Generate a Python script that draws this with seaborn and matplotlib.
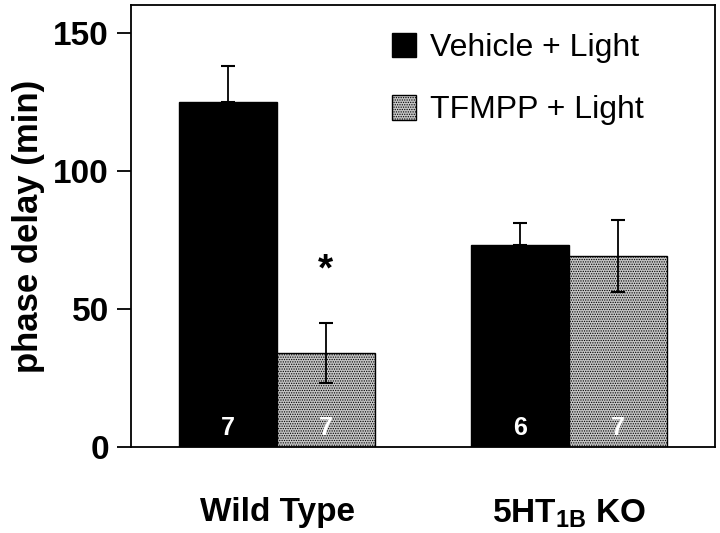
import matplotlib
matplotlib.use('Agg')
import matplotlib.pyplot as plt
import pandas as pd
import seaborn as sns

# Data
groups = ['Wild Type', '5HT$_{\\mathbf{1B}}$ KO']
treatments = ['Vehicle + Light', 'TFMPP + Light']
vehicle_mean = [125, 73]
tfmpp_mean = [34, 69]
vehicle_sem = [13, 8]
tfmpp_sem = [11, 13]
vehicle_n = [7, 6]
tfmpp_n = [7, 7]
sig_marks = ['*', '']  # per group, above TFMPP bar
sig_y = [64, None]

sns.set_style('white')
plt.rcParams['font.family'] = ['Liberation Sans', 'DejaVu Sans']
plt.rcParams['mathtext.fontset'] = 'custom'
plt.rcParams['mathtext.rm'] = 'Liberation Sans:bold'
plt.rcParams['mathtext.bf'] = 'Liberation Sans:bold'
plt.rcParams['hatch.color'] = '#6e6e6e'
plt.rcParams['hatch.linewidth'] = 0.6
for key in ['text.color', 'axes.labelcolor', 'xtick.color', 'ytick.color']:
    plt.rcParams[key] = 'black'

df = pd.DataFrame({
    'group': groups * 2,
    'treatment': [treatments[0]] * 2 + [treatments[1]] * 2,
    'mean': vehicle_mean + tfmpp_mean,
})

fig = plt.figure(figsize=(7.2, 5.33), dpi=100)
ax = fig.add_axes([131 / 720, 1 - 447 / 533, (715 - 131) / 720, (447 - 5) / 533])

sns.barplot(data=df, x='group', y='mean', hue='treatment', hue_order=treatments,
            palette=['black', '#c6c6c6'], width=0.67, errorbar=None,
            edgecolor='black', linewidth=1, legend=False, ax=ax)

bar_conts = list(ax.containers)

# hatch to imitate the dotted gray fill
for p in bar_conts[1].patches:
    p.set_hatch('.......')

sems = [vehicle_sem, tfmpp_sem]
ns = [vehicle_n, tfmpp_n]
for k, cont in enumerate(bar_conts):
    for i, p in enumerate(cont.patches):
        xc = p.get_x() + p.get_width() / 2
        h = p.get_height()
        lower = 0 if k == 0 else sems[k][i]
        ax.errorbar(xc, h, yerr=[[lower], [sems[k][i]]], fmt='none',
                    ecolor='black', elinewidth=1.3, capsize=5, capthick=1.5, zorder=4)
        ax.text(xc, 2.5, str(ns[k][i]), color='white', fontsize=18,
                fontweight='bold', ha='center', va='bottom', zorder=5)
        if k == 1 and sig_marks[i]:
            ax.text(xc, sig_y[i], sig_marks[i], fontsize=28, fontweight='bold',
                    ha='center', va='center')

ax.set_ylim(0, 160)
ax.set_xlim(-0.5, 1.5)
ax.set_yticks([0, 50, 100, 150])
ax.set_ylabel('phase delay (min)', fontsize=25, fontweight='bold', labelpad=6)
ax.set_xlabel('')
ax.tick_params(axis='y', which='major', direction='out', length=10, width=1.3,
               labelsize=24, pad=6, left=True)
ax.tick_params(axis='x', length=0, labelsize=24, pad=36)
for lab in ax.get_xticklabels() + ax.get_yticklabels():
    lab.set_fontweight('bold')
for s in ax.spines.values():
    s.set_visible(True)
    s.set_color('black')
    s.set_linewidth(1.3)

ax.legend(bar_conts, treatments, loc='upper left', bbox_to_anchor=(0.447, 0.937),
          frameon=False, fontsize=23, handlelength=0.75, handleheight=0.8,
          handletextpad=0.45, labelspacing=1.0, borderpad=0, borderaxespad=0)

plt.savefig('out.png', dpi=100)
plt.close()
